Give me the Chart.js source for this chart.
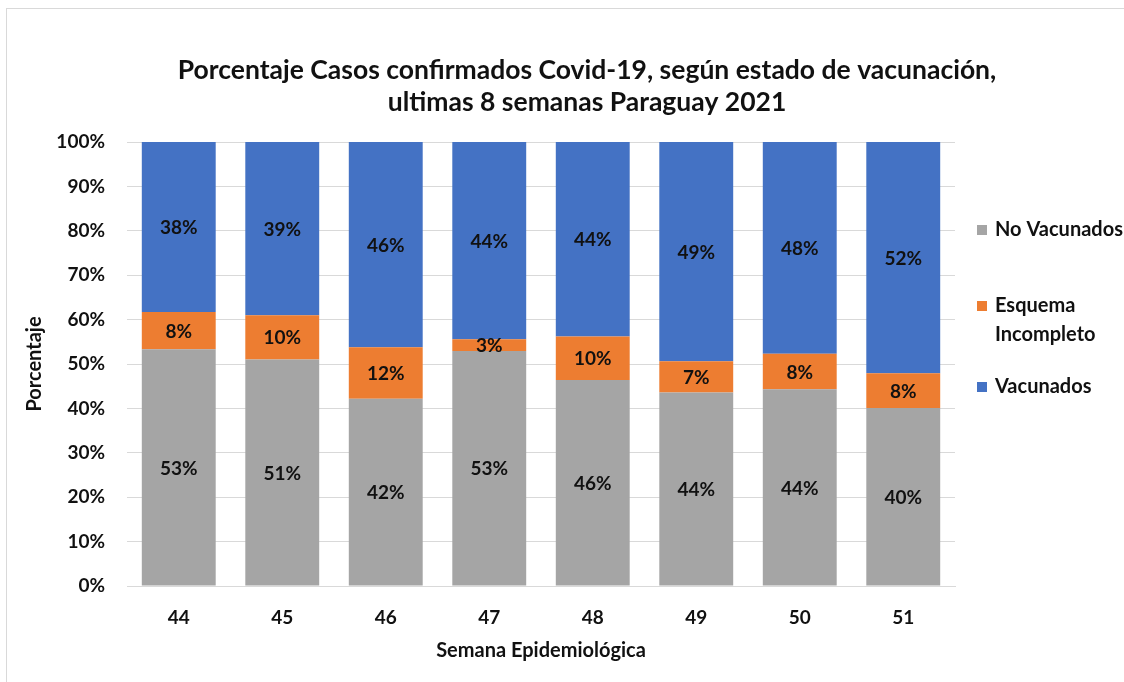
<!DOCTYPE html>
<html>
<head>
<meta charset="utf-8">
<title>Casos confirmados Covid-19 según estado de vacunación</title>
<script src="https://cdn.jsdelivr.net/npm/chart.js@4/dist/chart.umd.min.js"></script>
<style>
    html, body { margin: 0; padding: 0; background: #ffffff; }
    #frame {
        position: absolute;
        left: 6px;
        top: 8px;
        width: 1200px;
        height: 800px;
        border: 1px solid #d9d9d9;
    }
    #wrap {
        position: absolute;
        left: 0;
        top: 0;
        width: 1124px;
        height: 682px;
    }
</style>
</head>
<body>
<div id="frame"></div>
<div id="wrap"><canvas id="vacChart"></canvas></div>
<script>
// ---------- Data ----------

const semanas = ["44", "45", "46", "47", "48", "49", "50", "51"];

const noVacunados = [53.3, 51.0, 42.2, 52.9, 46.4, 43.6, 44.3, 40.1];
const esquemaIncompleto = [8.4, 10.0, 11.6, 2.7, 9.8, 7.0, 8.0, 7.8];
const vacunados = [38.3, 39.0, 46.2, 44.4, 43.8, 49.4, 47.7, 52.1];

const yTicks = [0, 10, 20, 30, 40, 50, 60, 70, 80, 90, 100];

const titleLines = [
    "Porcentaje Casos confirmados Covid-19, según estado de vacunación,",
    "ultimas 8 semanas Paraguay 2021"
];

const FONT = "Lato, 'Open Sans', sans-serif";
const TEXT = "#111111";

// ---------- Plugins ----------

// title drawn centred on the whole picture
const titlePlugin = {
    id: "titleText",
    afterDraw(chart) {
        const c = chart.ctx;
        c.save();
        c.font = "bold 26.5px " + FONT;
        c.fillStyle = TEXT;
        c.textAlign = "center";
        c.textBaseline = "middle";
        c.fillText(titleLines[0], 587, 70);
        c.fillText(titleLines[1], 587, 102);
        c.restore();
    }
};

// value labels in the middle of every segment
const valuePlugin = {
    id: "segmentValues",
    afterDatasetsDraw(chart) {
        const c = chart.ctx;
        c.save();
        c.font = "bold 19px " + FONT;
        c.fillStyle = TEXT;
        c.textAlign = "center";
        c.textBaseline = "middle";
        chart.data.datasets.forEach((ds, i) => {
            const meta = chart.getDatasetMeta(i);
            meta.data.forEach((bar, j) => {
                const v = ds.data[j];
                c.fillText(Math.round(v) + "%", bar.x, (bar.y + bar.base) / 2 + 1);
            });
        });
        c.restore();
    }
};

// legend on the right, wrapped like the original
const legendPlugin = {
    id: "sideLegend",
    afterDraw(chart) {
        const c = chart.ctx;
        const rows = [230, 306, 387];
        c.save();
        c.font = "bold 20px " + FONT;
        c.textBaseline = "middle";
        c.textAlign = "left";
        chart.data.datasets.forEach((ds, i) => {
            const y = rows[i];
            c.fillStyle = ds.backgroundColor;
            c.fillRect(977, y - 5, 10, 10);
            c.fillStyle = TEXT;
            let lines = [ds.label];
            if (c.measureText(ds.label).width > 135) {
                lines = ds.label.split(" ");
            }
            lines.forEach((t, k) => c.fillText(t, 995, y + k * 29));
        });
        c.restore();
    }
};

// ---------- Chart ----------

const ctx = document.getElementById("vacChart");

new Chart(ctx, {
    type: "bar",
    data: {
        labels: semanas,
        datasets: [
            {
                label: "No Vacunados",
                data: noVacunados,
                backgroundColor: "#a5a5a5"
            },
            {
                label: "Esquema Incompleto",
                data: esquemaIncompleto,
                backgroundColor: "#ed7d31"
            },
            {
                label: "Vacunados",
                data: vacunados,
                backgroundColor: "#4472c4"
            }
        ]
    },
    options: {
        responsive: true,
        maintainAspectRatio: false,
        animation: false,
        layout: {
            padding: { top: 142, right: 169, left: 0, bottom: 0 }
        },
        datasets: {
            bar: {
                barPercentage: 0.714,
                categoryPercentage: 1
            }
        },
        plugins: {
            legend: { display: false },
            title: { display: false },
            tooltip: { enabled: false }
        },
        scales: {
            x: {
                stacked: true,
                afterFit(scale) { scale.height = 96; },
                grid: { display: false, drawTicks: false },
                border: { display: true, color: "#d9d9d9", width: 1 },
                ticks: {
                    color: TEXT,
                    padding: 20,
                    font: { family: FONT, size: 19, weight: "bold" }
                },
                title: {
                    display: true,
                    text: "Semana Epidemiológica",
                    color: TEXT,
                    padding: { top: 0, bottom: 19 },
                    font: { family: FONT, size: 20, weight: "bold" }
                }
            },
            y: {
                stacked: true,
                min: 0,
                max: 100,
                afterFit(scale) { scale.width = 127; },
                afterBuildTicks(scale) {
                    scale.ticks = yTicks.map(v => ({ value: v }));
                },
                grid: { color: "#d9d9d9", drawTicks: false },
                border: { display: false },
                ticks: {
                    color: TEXT,
                    padding: 22,
                    font: { family: FONT, size: 19, weight: "bold" },
                    callback: v => v + "%"
                },
                title: {
                    display: true,
                    text: "Porcentaje",
                    color: TEXT,
                    padding: { top: 23, bottom: 0 },
                    font: { family: FONT, size: 20, weight: "bold" }
                }
            }
        }
    },
    plugins: [valuePlugin, titlePlugin, legendPlugin]
});
</script>
</body>
</html>
